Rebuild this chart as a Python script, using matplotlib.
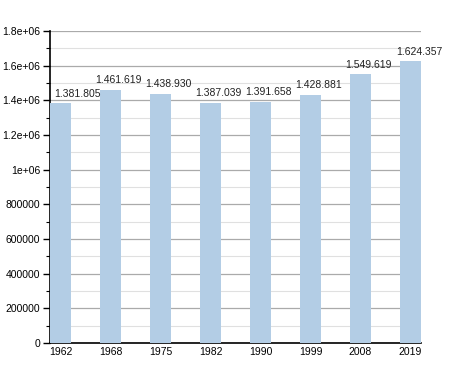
import matplotlib
matplotlib.use("Agg")
import matplotlib.pyplot as plt
from matplotlib.ticker import MultipleLocator
import numpy as np

years = ["1962", "1968", "1975", "1982", "1990", "1999", "2008", "2019"]
population = [1381805, 1461619, 1438930, 1387039, 1391658, 1428881, 1549619, 1624357]
value_labels = ["1.381.805", "1.461.619", "1.438.930", "1.387.039", "1.391.658", "1.428.881", "1.549.619", "1.624.357"]
y_ticks = [0, 200000, 400000, 600000, 800000, 1000000, 1200000, 1400000, 1600000, 1800000]
y_tick_labels = ["0", "200000", "400000", "600000", "800000", "1e+06", "1.2e+06", "1.4e+06", "1.6e+06", "1.8e+06"]

plt.rcParams['font.family'] = ['Liberation Sans', 'DejaVu Sans']

fig = plt.figure(figsize=(4.5, 3.73), dpi=100)
ax = fig.add_axes([50/450, 30/373, 371/450, 312/373])

w = 0.42
x = np.arange(len(years))
ax.bar(x, population, width=w, align='edge', color='#b3cde5', zorder=3)
for i, (xi, v, lab) in enumerate(zip(x, population, value_labels)):
    dx = 12.5 if i == 0 else 6
    ax.annotate(lab, (xi + w/2, v), xytext=(dx, 3.5), textcoords='offset points',
                ha='center', va='bottom', fontsize=7.5, color='#222222', zorder=4)

ax.set_xlim(0, len(years) - 1 + w)
ax.set_ylim(0, 1800000)
ax.set_xticks(x + w/2)
ax.set_xticklabels(years, fontsize=7.5)
ax.set_yticks(y_ticks)
ax.set_yticklabels(y_tick_labels, fontsize=7.5)
ax.yaxis.set_minor_locator(MultipleLocator(100000))
ax.tick_params(axis='x', length=0, pad=3)
ax.tick_params(axis='y', which='major', length=5, width=1, direction='out', pad=2)
ax.tick_params(axis='y', which='minor', length=3, width=0.8, direction='out')

ax.grid(axis='y', which='major', color='#aaaaaa', linewidth=0.9, zorder=1)
ax.grid(axis='y', which='minor', color='#e0e0e0', linewidth=0.8, zorder=1)
for s in ['top', 'right']:
    ax.spines[s].set_visible(False)
ax.spines['left'].set_linewidth(1.2)
ax.spines['bottom'].set_linewidth(1.2)

fig.savefig("out.png", dpi=100)
